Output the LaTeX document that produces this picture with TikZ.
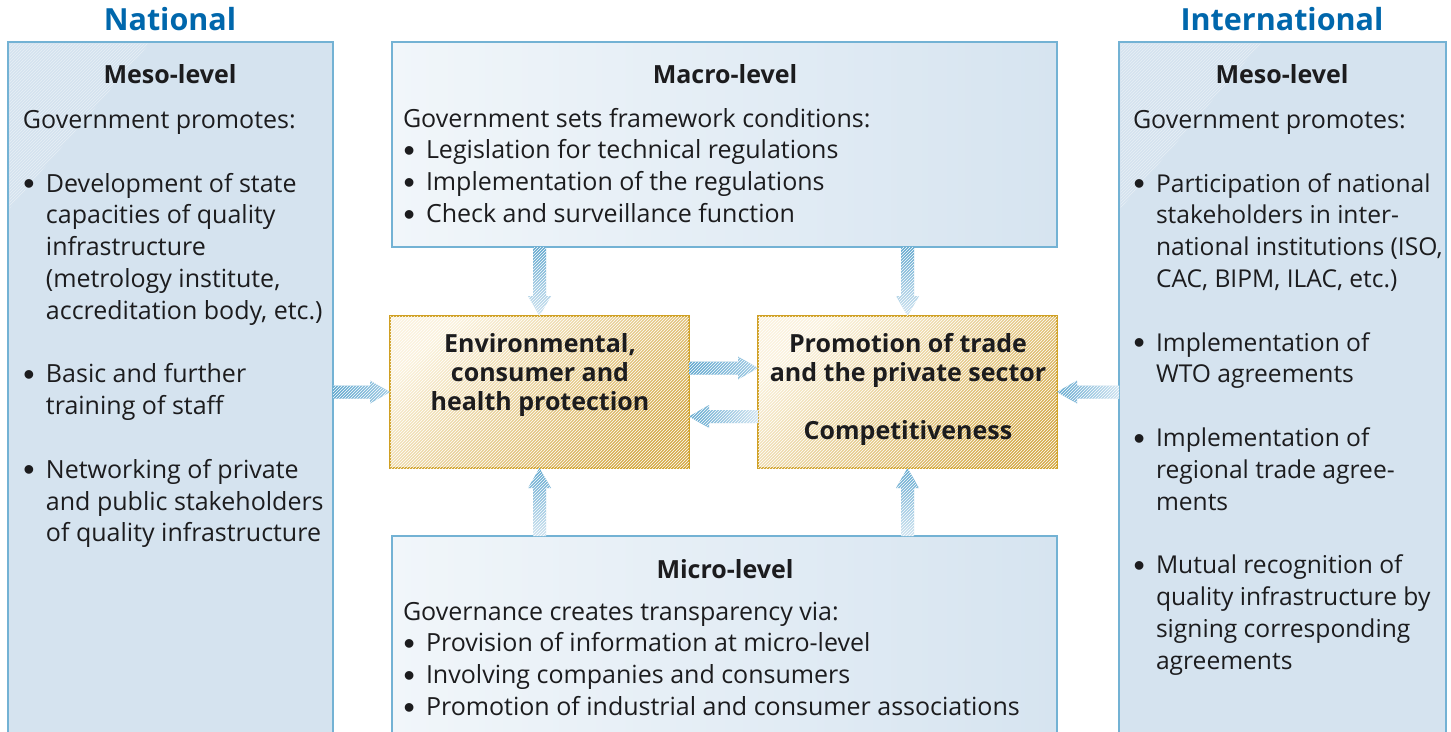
\documentclass[tikz,border=0pt]{standalone}
\usepackage{fontspec}
\setmainfont{Open Sans}
\newfontfamily\bulfont{Liberation Sans}
\usetikzlibrary{calc,patterns}
\definecolor{bboxfill}{RGB}{213,227,239}
\definecolor{bborder}{RGB}{115,178,212}
\definecolor{bgradL}{RGB}{241,246,250}
\definecolor{bgradR}{RGB}{214,228,240}
\definecolor{ytop}{RGB}{251,243,222}
\definecolor{ybot}{RGB}{214,172,76}
\definecolor{yborder}{RGB}{208,160,35}
\definecolor{titleblue}{RGB}{0,103,172}
\definecolor{textblack}{RGB}{28,28,30}
\definecolor{arrowA}{RGB}{98,168,207}
\definecolor{arrowB}{RGB}{208,228,241}
\definecolor{arrowC}{RGB}{160,203,228}
\newcommand{\txtlines}[1]{\vtop{\halign{##\hfil\cr#1\crcr}}}
\newcommand{\ctrlines}[1]{\vtop{\halign{\hfil##\hfil\cr#1\crcr}}}
\newcommand{\bul}{\hbox to 23pt{\hskip0.5pt\raisebox{-2.6pt}{\bulfont\fontsize{32}{32}\selectfont\textbullet}\hfil}}
\newcommand{\ind}{\hskip23pt}
\newcommand{\blockarrow}[3]{%
  \coordinate (ah) at ($(#2)!20pt!(#1)$);
  \shade[#3, postaction={fill opacity=0.35, pattern=north east lines, pattern color=white}]
    ($(#1)!6.5pt!90:(#2)$) -- ($(ah)!6.5pt!-90:(#1)$) -- ($(ah)!11.5pt!-90:(#1)$) -- (#2)
    -- ($(ah)!11.5pt!90:(#1)$) -- ($(ah)!6.5pt!90:(#1)$) -- ($(#1)!6.5pt!-90:(#2)$) -- cycle;
}
\begin{document}
\begin{tikzpicture}[x=1pt,y=-1pt,
  sidebox/.style={draw=bborder, line width=2.5pt, fill=bboxfill, inner sep=0, outer sep=0, anchor=north west},
  gradbox/.style={draw=bborder, line width=2.5pt, left color=bgradL, right color=bgradR, inner sep=0, outer sep=0, anchor=north west},
  yelbox/.style={draw=yborder, line width=2.5pt, top color=ytop, bottom color=ybot, shading angle=40, inner sep=0, outer sep=0, anchor=north west,
     postaction={fill opacity=0.35, pattern=north east lines, pattern color=white}},
  bodytext/.style={inner sep=0, outer sep=0, text=textblack, font=\fontsize{25}{31.8}\selectfont, anchor=base west},
  headtext/.style={inner sep=0, outer sep=0, text=textblack, font=\bfseries\fontsize{25}{30}\selectfont, anchor=base},
  yeltext/.style={inner sep=0, outer sep=0, text=textblack, font=\bfseries\fontsize{25}{29.2}\selectfont, anchor=base},
  titletext/.style={inner sep=0, outer sep=0, text=titleblue, font=\bfseries\fontsize{30.5}{36}\selectfont, anchor=base}
]
\useasboundingbox (0,0) rectangle (1451,731);
\clip (0,0) rectangle (1451,731);
\fill[white] (0,0) rectangle (1451,731);

% boxes
\node[sidebox, minimum width=325pt, minimum height=720pt] (lbox) at (8,42) {};
\node[sidebox, minimum width=327pt, minimum height=720pt] (rbox) at (1119,42) {};
\node[gradbox, minimum width=665pt, minimum height=205pt] (macro) at (392,42) {};
\node[gradbox, minimum width=665pt, minimum height=230pt] (micro) at (392,536) {};
\node[yelbox, minimum width=299pt, minimum height=152pt] (env) at (390,316) {};
\node[yelbox, minimum width=299pt, minimum height=152pt] (promo) at (758,316) {};

% hatched corners of side boxes
\fill[pattern=north east lines, pattern color=white, opacity=0.45]
  ($(lbox.north west)+(1.5,1.5)$) -- ++(140,0) -- ++(-140,165) -- cycle;
\fill[pattern=north east lines, pattern color=white, opacity=0.45]
  ($(rbox.north west)+(1.5,1.5)$) -- ++(140,0) -- ++(-140,165) -- cycle;

% titles
\node[titletext] (tnat) at (170,30) {National};
\node[titletext] (tint) at (1282,30) {International};

% left box text
\node[headtext] (lhead) at (170,83) {Meso-level};
\node[bodytext] (lintro) at (23,128) {Government promotes:};
\node[bodytext] (llist) at (23,192) {\txtlines{\bul Development of state\cr
\ind capacities of quality\cr
\ind infrastructure\cr
\ind (metrology institute,\cr
\ind accreditation body, etc.)\cr
\cr
\bul Basic and further\cr
\ind training of staff\cr
\cr
\bul Networking of private\cr
\ind and public stakeholders\cr
\ind of quality infrastructure}};

% right box text
\node[headtext] (rhead) at (1282,83) {Meso-level};
\node[bodytext] (rintro) at (1133,128) {Government promotes:};
\node[bodytext, font=\fontsize{24.6}{31.8}\selectfont] (rlist) at (1133,192) {\txtlines{\bul Participation of national\cr
\ind stakeholders in inter-\cr
\ind national institutions (ISO,\cr
\ind CAC, BIPM, ILAC, etc.)\cr
\cr
\bul Implementation of\cr
\ind WTO agreements\cr
\cr
\bul Implementation of\cr
\ind regional trade agree-\cr
\ind ments\cr
\cr
\bul Mutual recognition of\cr
\ind quality infrastructure by\cr
\ind signing corresponding\cr
\ind agreements}};

% macro text
\node[headtext] (mahead) at (725,83) {Macro-level};
\node[bodytext] (malist) at (403,127) {\txtlines{Government sets framework conditions:\cr
\bul Legislation for technical regulations\cr
\bul Implementation of the regulations\cr
\bul Check and surveillance function}};

% micro text
\node[headtext] (mihead) at (725,578) {Micro-level};
\node[bodytext] (milist) at (403,620) {\txtlines{Governance creates transparency via:\cr
\bul Provision of information at micro-level\cr
\bul Involving companies and consumers\cr
\bul Promotion of industrial and consumer associations}};

% yellow box text
\node[yeltext] (envtxt) at (540,352) {\ctrlines{Environmental,\cr consumer and\cr health protection}};
\node[yeltext] (promotxt) at (908,352) {\ctrlines{Promotion of trade\cr and the private sector\cr \cr Competitiveness}};

% arrows
\blockarrow{macro.south -| env.north}{env.north}{top color=arrowA, bottom color=arrowB}
\blockarrow{macro.south -| promo.north}{promo.north}{top color=arrowA, bottom color=arrowB}
\blockarrow{micro.north -| env.south}{env.south}{bottom color=arrowB, top color=arrowA}
\blockarrow{micro.north -| promo.south}{promo.south}{bottom color=arrowB, top color=arrowA}
\blockarrow{env.west -| lbox.east}{env.west}{left color=arrowA, right color=arrowC}
\blockarrow{promo.east -| rbox.west}{promo.east}{right color=arrowB, left color=arrowA}
\coordinate (e1) at ($(env.east)+(0,-24)$);
\coordinate (p1) at ($(promo.west)+(0,-24)$);
\coordinate (e2) at ($(env.east)+(0,24.5)$);
\coordinate (p2) at ($(promo.west)+(0,24.5)$);
\blockarrow{e1}{p1}{left color=arrowA, right color=arrowC}
\blockarrow{p2}{e2}{left color=arrowA, right color=arrowB}
\end{tikzpicture}
\end{document}
